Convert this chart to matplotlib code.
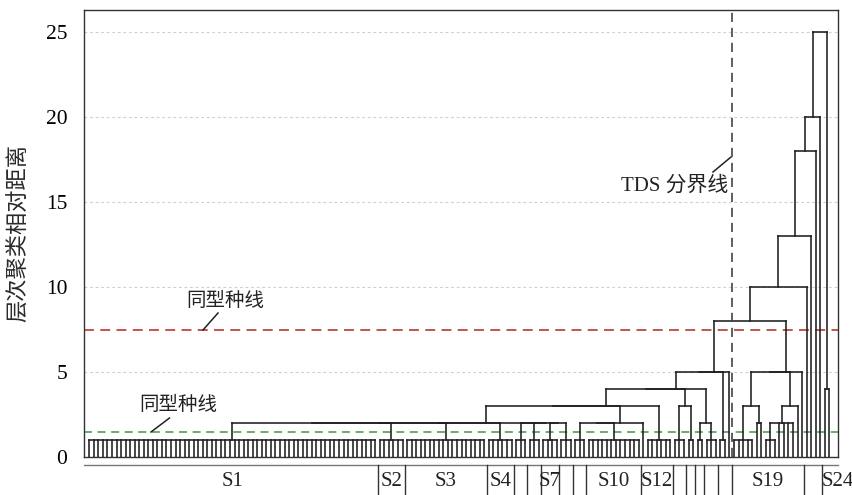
import numpy as np
import matplotlib
matplotlib.use("Agg")
import matplotlib.pyplot as plt
from matplotlib.collections import LineCollection
from matplotlib.transforms import blended_transform_factory

# ---- tree description -------------------------------------------------------
# An int n is a group of n samples joined at COMB_HEIGHT (n == 1: a lone sample).
# A tuple (h, a, b, ...) joins its children at relative distance h.
COMB_HEIGHT = 1.0

S1, S2, S3, S4, S5, S6, S7, S8 = 64, 6, 18, 6, 3, 3, 4, 3
S9, S10, S11, S12 = 3, 12, 1, 6
S13, S14, S15, S16, S17, S18 = 3, 2, 2, 3, 2, 1

left_block = (2, (2, (2, (2, S1, S2), S3), S4), (2, S5, (2, S6, (2, S7, S8))))
mid_block = (2, (2, S9, S10), S11)
core = (3, (3, left_block, mid_block), S12)
side_a = (3, S13, S14)
side_b = (2, S15, S16)
branch_left = (5, (5, (4, (4, core, side_a), side_b), S17), S18)

s19_a = (3, 5, (2, 1, 1))
s19_b = (3, (2, 3, 1, 1, 1, 1), 1)
branch_right = (5, (5, s19_a, s19_b), 1)

s24 = (4, 1, 1)
tree = (25, (20, (18, (13, (10, (8, branch_left, branch_right), 1), 1), 1), 1), s24)

# ---- group table under the axis ----------------------------------------------
table_labels = ["S1", "S2", "S3", "S4", "", "", "S7", "", "", "S10", "S12",
                "", "", "", "", "", "S19", "", "S24"]
table_sizes = [64, 6, 18, 6, 3, 3, 4, 3, 3, 12, 7, 3, 2, 2, 3, 3, 16, 4, 2]

# reference levels
same_type_upper = 7.5
same_type_lower = 1.5
tds_after_samples = 142          # TDS split lies after this many samples

# ---- figure -----------------------------------------------------------------
W, H, DPI = 853, 495, 100
fig = plt.figure(figsize=(W / DPI, H / DPI), dpi=DPI)
ax = fig.add_axes([84 / W, 1 - 457 / H, (838 - 84) / W, (457 - 10) / H])

serif = ["Liberation Serif", "Noto Sans CJK SC", "DejaVu Sans"]
cjk = ["Noto Sans CJK SC", "DejaVu Sans"]

segments = []


def layout(node, start):
    """Return (anchor x, top height, next free leaf index) and collect segments."""
    if isinstance(node, int):
        xs = np.arange(start, start + node, dtype=float)
        if node == 1:
            return xs[0], 0.0, start + 1
        for x in xs:
            segments.append([(x, 0.0), (x, COMB_HEIGHT)])
        segments.append([(xs[0], COMB_HEIGHT), (xs[-1], COMB_HEIGHT)])
        return xs.mean(), COMB_HEIGHT, start + node
    h, *kids = node
    anchors = []
    for kid in kids:
        a, top, start = layout(kid, start)
        if h > top:
            segments.append([(a, top), (a, h)])
        anchors.append(a)
    lo, hi = min(anchors), max(anchors)
    segments.append([(lo, h), (hi, h)])
    return (lo + hi) / 2.0, h, start


_, _, n_leaves = layout(tree, 0)

ax.add_collection(LineCollection(segments, colors="#1e1e1e", linewidths=1.15,
                                 capstyle="projecting", joinstyle="miter",
                                 zorder=3))

# axis ranges (leaf units horizontally)
step = (829.3 - 89.3) / (n_leaves - 1)
ax.set_xlim(-(89.3 - 84) / step, (838 - 89.3) / step)
ax.set_ylim(0, (457 - 10) / 17.0)

yticks = [0, 5, 10, 15, 20, 25]
ax.set_yticks(yticks)
ax.set_yticklabels([str(t) for t in yticks], fontfamily=serif, fontsize=15.5)
ax.tick_params(axis="y", length=0, pad=12)
ax.set_xticks([])
for t in yticks[1:]:
    ax.axhline(t, color="#cfcfcf", lw=0.8, ls=(0, (2.5, 2.5)), zorder=1)

for sp in ax.spines.values():
    sp.set_color("#333333")
    sp.set_linewidth(1.0)

ax.set_ylabel("层次聚类相对距离", fontfamily=cjk, fontsize=16, labelpad=12,
              color="#2a2a2a")

# reference lines
ax.axhline(same_type_upper, color="#c4453f", lw=1.3, ls=(0, (5.5, 3.5)), zorder=2)
ax.axhline(same_type_lower, color="#4a9a4a", lw=1.15, ls=(0, (5, 3.5)), zorder=2)
tds_x = tds_after_samples - 0.5
ax.axvline(tds_x, color="#444444", lw=1.2, ls=(0, (5.5, 3.5)), zorder=4)

# annotations
px_x = lambda p: (p - 89.3) / step
px_y = lambda p: (457 - p) / 17.0
ax.plot([px_x(203), px_x(218)], [px_y(330), px_y(313)], color="#222222", lw=1.1)
ax.text(px_x(225), px_y(301), "同型种线", fontfamily=cjk, fontsize=14,
        ha="center", va="center", color="#222222")
ax.plot([px_x(151), px_x(169.5)], [px_y(432), px_y(418)], color="#222222", lw=1.1)
ax.text(px_x(178), px_y(405), "同型种线", fontfamily=cjk, fontsize=14,
        ha="center", va="center", color="#222222")
ax.plot([px_x(713), px_x(731)], [px_y(172), px_y(157)], color="#222222", lw=1.1)
ax.text(px_x(728), px_y(186), "TDS 分界线", fontfamily=serif, fontsize=15,
        ha="right", va="center", color="#222222")

# group table below the axis
tr = blended_transform_factory(ax.transData, ax.transAxes)
top_y = -(465 - 457) / 447
bot_y = -(495 - 457) / 447
lab_y = -(481 - 457) / 447
x_lo, x_hi = ax.get_xlim()
ax.plot([x_lo, x_hi], [top_y, top_y], transform=tr, color="#777777", lw=1.0,
        clip_on=False)
edges = np.concatenate([[0], np.cumsum(table_sizes)]) - 0.5
for e in edges[1:-1]:
    ax.plot([e, e], [top_y, bot_y], transform=tr, color="#333333", lw=1.0,
            clip_on=False)
for i, lab in enumerate(table_labels):
    if not lab:
        continue
    lo, hi = edges[i], edges[i + 1]
    if i == len(table_labels) - 1:
        # last cell is narrow: start the label at its left border
        ax.text(lo - 0.2, lab_y, lab, transform=tr, ha="left", va="center",
                fontfamily=serif, fontsize=15, color="#222222", clip_on=False)
    else:
        ax.text((lo + hi) / 2, lab_y, lab, transform=tr, ha="center",
                va="center", fontfamily=serif, fontsize=15, color="#222222",
                clip_on=False)

fig.savefig("out.png", dpi=DPI)
